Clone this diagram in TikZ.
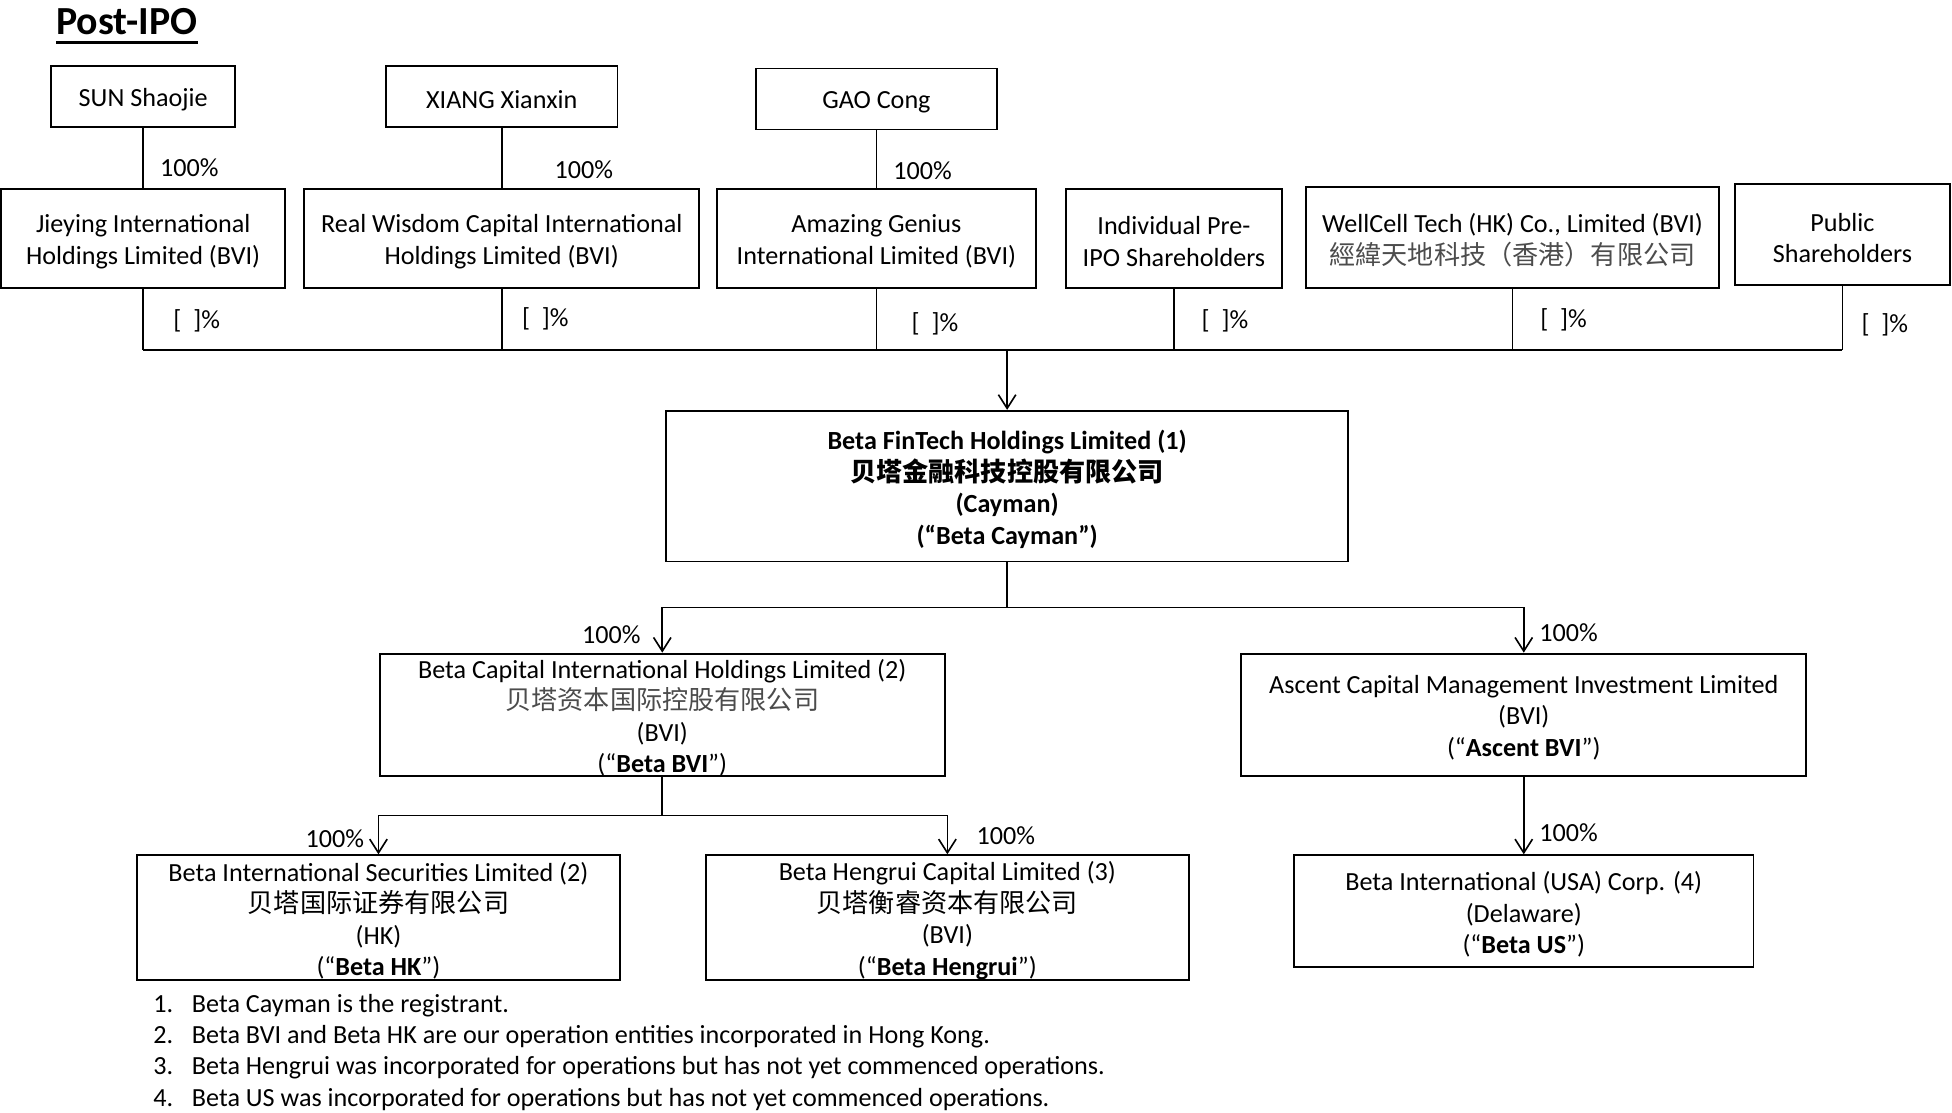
\documentclass[tikz,border=0pt]{standalone}
\usepackage{fontspec}
\setmainfont{Carlito}
\newfontfamily\cjk{Noto Sans CJK SC}
\usetikzlibrary{arrows.meta}
\newcommand\myfs{\fontsize{21}{25.3}\selectfont}
\newcommand\orgbox[5]{%
  \node[box, minimum width=#3, minimum height=#4] (#1) at (#2) {};
  \node[txt] (#1-t) at ([yshift=-2.5pt]#1.center) {#5};}
\begin{document}
\begin{tikzpicture}[x=1pt,y=-1pt,
  box/.style={draw, line width=1.5pt, inner sep=0pt},
  txt/.style={align=center, inner sep=0pt, font=\myfs},
  ln/.style={line width=1.3pt},
  arr/.style={line width=1.3pt, -{Straight Barb[length=11pt,width=14pt,line width=1.3pt]}},
  pct/.style={font=\myfs, inner sep=0pt},
  note/.style={font=\myfs, inner sep=0pt, anchor=base west}]
\useasboundingbox (0,0) rectangle (1568,894);
\fill[white] (0,0) rectangle (1568,894);

% title
\node[font=\fontsize{32}{36}\selectfont\bfseries, inner sep=0pt, anchor=base west] (title) at (45,28) {Post-IPO};
\draw[line width=2.4pt] ([yshift=-6pt]title.base west) -- ([yshift=-6pt]title.base east);

% top row
\orgbox{sun}{115,77.5}{148}{49}{SUN Shaojie}
\orgbox{xiang}{403,77.5}{186}{49}{XIANG Xianxin}
\orgbox{gao}{704,79.5}{194}{49}{GAO Cong}

% second row
\orgbox{jieying}{115,191.5}{228}{79}{Jieying International\\Holdings Limited (BVI)}
\orgbox{realw}{403,191.5}{317}{79}{Real Wisdom Capital International\\Holdings Limited (BVI)}
\orgbox{amazing}{704,191.5}{256}{79}{Amazing Genius\\International Limited (BVI)}
\orgbox{indiv}{943,191.5}{174}{79}{Individual Pre-\\IPO Shareholders}
\orgbox{wellcell}{1215,190.5}{332}{81}{WellCell Tech (HK) Co., Limited (BVI)\\{\cjk\color{black!70}經緯天地科技（香港）有限公司}}
\orgbox{public}{1480,188.5}{173}{81}{Public\\Shareholders}

% Cayman
\orgbox{fintech}{809,390.5}{548}{121}{\bfseries Beta FinTech Holdings Limited (1)\\{\cjk\bfseries 贝塔金融科技控股有限公司}\\\bfseries (Cayman)\\\bfseries (“Beta Cayman”)}

% third level
\orgbox{bcap}{532,574}{454}{98}{Beta Capital International Holdings Limited (2)\\{\cjk\color{black!70}贝塔资本国际控股有限公司}\\(BVI)\\(“\textbf{Beta BVI}”)}
\orgbox{ascent}{1224,574}{454}{98}{Ascent Capital Management Investment Limited\\(BVI)\\(“\textbf{Ascent BVI}”)}

% fourth level
\orgbox{bsec}{304,737}{388}{100}{Beta International Securities Limited (2)\\{\cjk 贝塔国际证券有限公司}\\(HK)\\(“\textbf{Beta HK}”)}
\orgbox{bheng}{761,737}{388}{100}{Beta Hengrui Capital Limited (3)\\{\cjk 贝塔衡睿资本有限公司}\\(BVI)\\(“\textbf{Beta Hengrui}”)}
\orgbox{usa}{1224,732}{369}{90}{Beta International (USA) Corp. (4)\\(Delaware)\\(“\textbf{Beta US}”)}

% connectors top
\draw[ln] (sun) -- (jieying);
\draw[ln] (xiang) -- (xiang |- realw.north);
\draw[ln] (gao) -- (amazing);

\coordinate (busL) at (115,281);
\coordinate (busR) at (1480,281);
\draw[ln] (jieying.south) -- (jieying.south |- busL);
\draw[ln] (realw.south) -- (realw.south |- busL);
\draw[ln] (amazing.south) -- (amazing.south |- busL);
\draw[ln] (indiv.south) -- (indiv.south |- busL);
\draw[ln] (wellcell.south) -- (wellcell.south |- busL);
\draw[ln] (public.south) -- (public.south |- busL);
\draw[ln] (busL) -- (busR);
\draw[arr] (fintech.north |- busL) -- (fintech.north);

\coordinate (split1) at (809,488);
\draw[ln] (fintech.south) -- (split1);
\draw[arr] (split1) -| (bcap.north);
\draw[arr] (split1) -| (ascent.north);

\coordinate (split2) at (532,655);
\draw[ln] (bcap.south) -- (split2);
\draw[arr] (split2) -| (bsec.north);
\draw[arr] (split2) -| (bheng.north);

\draw[arr] (ascent.south) -- (usa.north);

% percentages
\node[pct] (p1) at (152,135) {100\%};
\node[pct] (p2) at (469,136) {100\%};
\node[pct] (p3) at (741,137) {100\%};
\node[pct] (q1) at (158,258) {[\ \ ]\%};
\node[pct] (q2) at (438,256) {[\ \ ]\%};
\node[pct] (q3) at (751,260) {[\ \ ]\%};
\node[pct] (q4) at (984,258) {[\ \ ]\%};
\node[pct] (q5) at (1256,257) {[\ \ ]\%};
\node[pct] (q6) at (1514,261) {[\ \ ]\%};
\node[pct] (p4) at (491,510) {100\%};
\node[pct] (p5) at (1260,508) {100\%};
\node[pct] (p6) at (269,674) {100\%};
\node[pct] (p7) at (808,671) {100\%};
\node[pct] (p8) at (1260,669) {100\%};

% notes
\node[note] (n1) at (123,813) {1.};
\node[note] (t1) at (154,813) {Beta Cayman is the registrant.};
\node[note] (n2) at (123,838) {2.};
\node[note] (t2) at (154,838) {Beta BVI and Beta HK are our operation entities incorporated in Hong Kong.};
\node[note] (n3) at (123,863) {3.};
\node[note] (t3) at (154,863) {Beta Hengrui was incorporated for operations but has not yet commenced operations.};
\node[note] (n4) at (123,889) {4.};
\node[note] (t4) at (154,889) {Beta US was incorporated for operations but has not yet commenced operations.};
\end{tikzpicture}
\end{document}
